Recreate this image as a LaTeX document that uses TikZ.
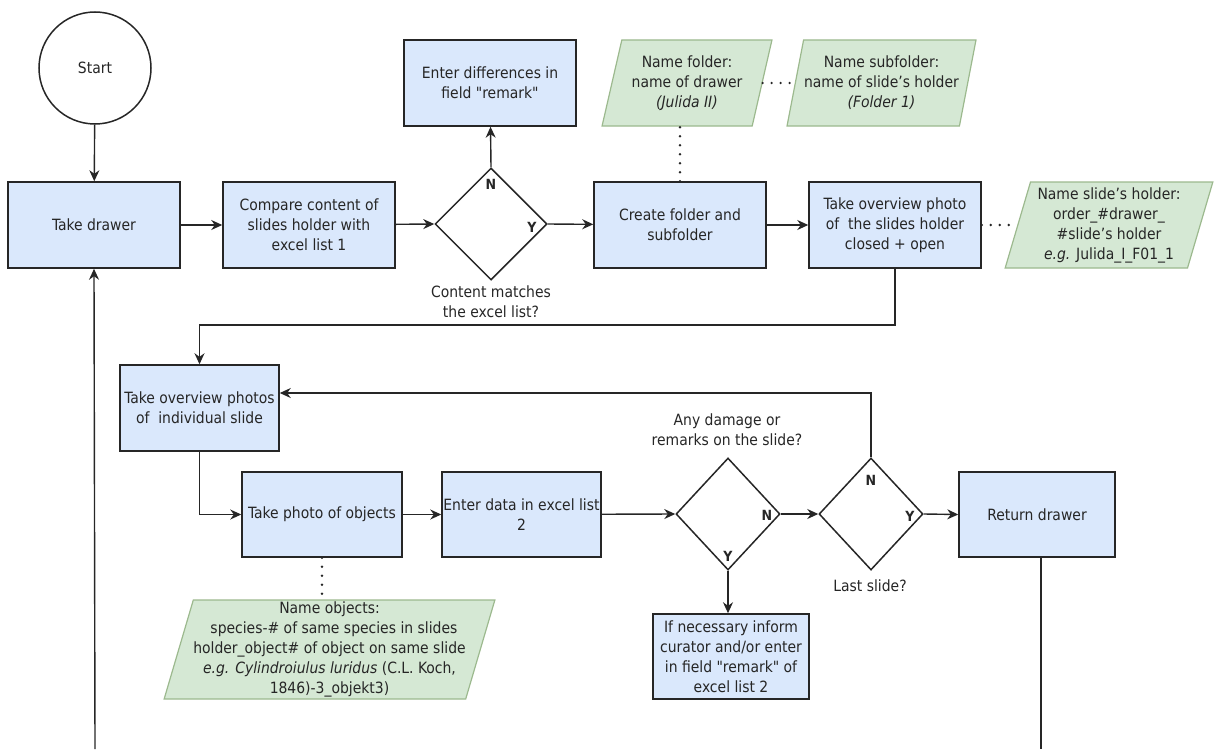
\documentclass[tikz,border=0pt]{standalone}
\usepackage{fontspec}
\setmainfont{DejaVu Sans Condensed}[Ligatures=TeXOff]
\usetikzlibrary{shapes.geometric,arrows.meta}
\definecolor{boxblue}{HTML}{DAE8FC}
\definecolor{boxgreen}{HTML}{D5E8D4}
\definecolor{greenline}{HTML}{9CB98E}
\definecolor{darkline}{HTML}{262626}
\begin{document}
\begin{tikzpicture}[x=1pt,y=-1pt,
  every node/.style={font=\fontsize{15.5}{20}\selectfont, text=darkline},
  proc/.style={draw=darkline, line width=1.5pt, fill=boxblue, align=center, inner sep=1pt},
  dec/.style={draw=darkline, line width=1.5pt, fill=white, diamond, inner sep=0pt},
  io/.style={draw=greenline, line width=1.2pt, fill=boxgreen, trapezium, trapezium left angle=73,
     trapezium right angle=107, trapezium stretches=true, align=center, inner sep=0pt},
  yn/.style={font=\fontsize{14}{16}\selectfont\bfseries},
  arr/.style={draw=darkline, line width=1.4pt, -{Stealth[length=11pt,width=10pt]}},
  ln/.style={draw=darkline, line width=1.4pt},
  dots/.style={draw=darkline, line width=2.6pt, dash pattern=on 0pt off 9pt, line cap=round}]
\useasboundingbox (0,0) rectangle (1214,749);
% nodes
\node[draw=darkline, line width=1.5pt, fill=white, circle, minimum size=112pt] (start) at (95,68) {Start};
\node[proc, minimum width=172pt, minimum height=86pt] (take) at (94,225) {Take drawer};
\node[proc, minimum width=172pt, minimum height=86pt] (compare) at (309,225) {Compare content of\\slides holder with\\excel list 1};
\node[dec, minimum width=112pt, minimum height=112pt] (d1) at (491,224) {};
\node[proc, minimum width=172pt, minimum height=86pt] (diff) at (490,83) {Enter differences in\\field "remark"};
\node[io, minimum width=170pt, minimum height=86pt] (folder) at (687,83) {Name folder:\\name of drawer\\\textit{(Julida II)}};
\node[io, minimum width=189pt, minimum height=86pt] (sub) at (881.5,83) {Name subfolder:\\name of slide’s holder\\\textit{(Folder 1)}};
\node[proc, minimum width=172pt, minimum height=86pt] (create) at (680,225) {Create folder and\\subfolder};
\node[proc, minimum width=172pt, minimum height=86pt] (overview) at (895,225) {Take overview photo\\of\ \ the slides holder\\closed + open};
\node[io, minimum width=208pt, minimum height=86pt] (holder) at (1109,225) {Name slide’s holder:\\order\_\#drawer\_\\\#slide’s holder\\\textit{e.g.} Julida\_I\_F01\_1};
\node[proc, minimum width=159pt, minimum height=86pt] (indiv) at (199.5,408) {Take overview photos\\of\ \ individual slide};
\node[proc, minimum width=160pt, minimum height=85pt] (photo) at (322,514.5) {Take photo of objects};
\node[proc, minimum width=159pt, minimum height=85pt] (data) at (521.5,514.5) {Enter data in excel list\\2};
\node[io, minimum width=319pt, minimum height=99pt] (objname) at (329.5,649.5) {Name objects:\\\ \ species-\# of same species in slides\\holder\_object\# of object on same slide\\\textit{e.g. Cylindroiulus luridus} (C.L. Koch,\\1846)-3\_objekt3)};
\node[dec, minimum width=104pt, minimum height=112pt] (d2) at (728,514) {};
\node[dec, minimum width=104pt, minimum height=112pt] (d3) at (871,514) {};
\node[proc, minimum width=156pt, minimum height=85pt] (ret) at (1037,514.5) {Return drawer};
\node[proc, minimum width=156pt, minimum height=85pt] (inform) at (731,656.5) {If necessary inform\\curator and/or enter\\in field "remark" of\\excel list 2};
% labels
\node[yn] (d1n) at (491,184) {N};
\node[yn] (d1y) at (532,227) {Y};
\node[align=center] (d1q) at (491,302) {Content matches\\the excel list?};
\node[yn] (d2n) at (767,515) {N};
\node[yn] (d2y) at (728,556) {Y};
\node[align=center] (d2q) at (727,430) {Any damage or\\remarks on the slide?};
\node[yn] (d3n) at (871,480) {N};
\node[yn] (d3y) at (910,516) {Y};
\node (d3q) at (870,586) {Last slide?};
% coordinates
\coordinate (c1) at (895,325);
\coordinate (bl) at (95,749);
\coordinate (br) at (1041,749);
% connectors
\draw[arr] (start) -- (take);
\draw[arr] (take) -- (compare);
\draw[arr] (compare) -- (d1.west);
\draw[arr] (d1.north) -- (diff);
\draw[arr] (d1.east) -- (create);
\draw[arr] (create) -- (overview);
\draw[dots] (create.north) -- (create.north |- folder.south);
\draw[dots] (folder.east) -- (sub.west);
\draw[dots] (overview.east) -- (holder.west);
\draw[arr] (overview.south) -- (c1) -| (indiv.north);
\draw[arr] (indiv.south) |- (photo.west);
\draw[arr] (photo) -- (data);
\draw[arr] (data) -- (d2.west);
\draw[arr] (d2.east) -- (d3.west);
\draw[arr] (d2.south) -- (d2.south |- inform.north);
\draw[arr] (d3.east) -- (ret.west);
\draw[arr] (d3.north) |- ([yshift=15pt]indiv.east);
\draw[dots] (photo.south) -- (photo.south |- objname.north);
\draw[ln] (ret.south -| br) -- (br);
\draw[arr] (bl) -- (take.south);
\end{tikzpicture}
\end{document}
